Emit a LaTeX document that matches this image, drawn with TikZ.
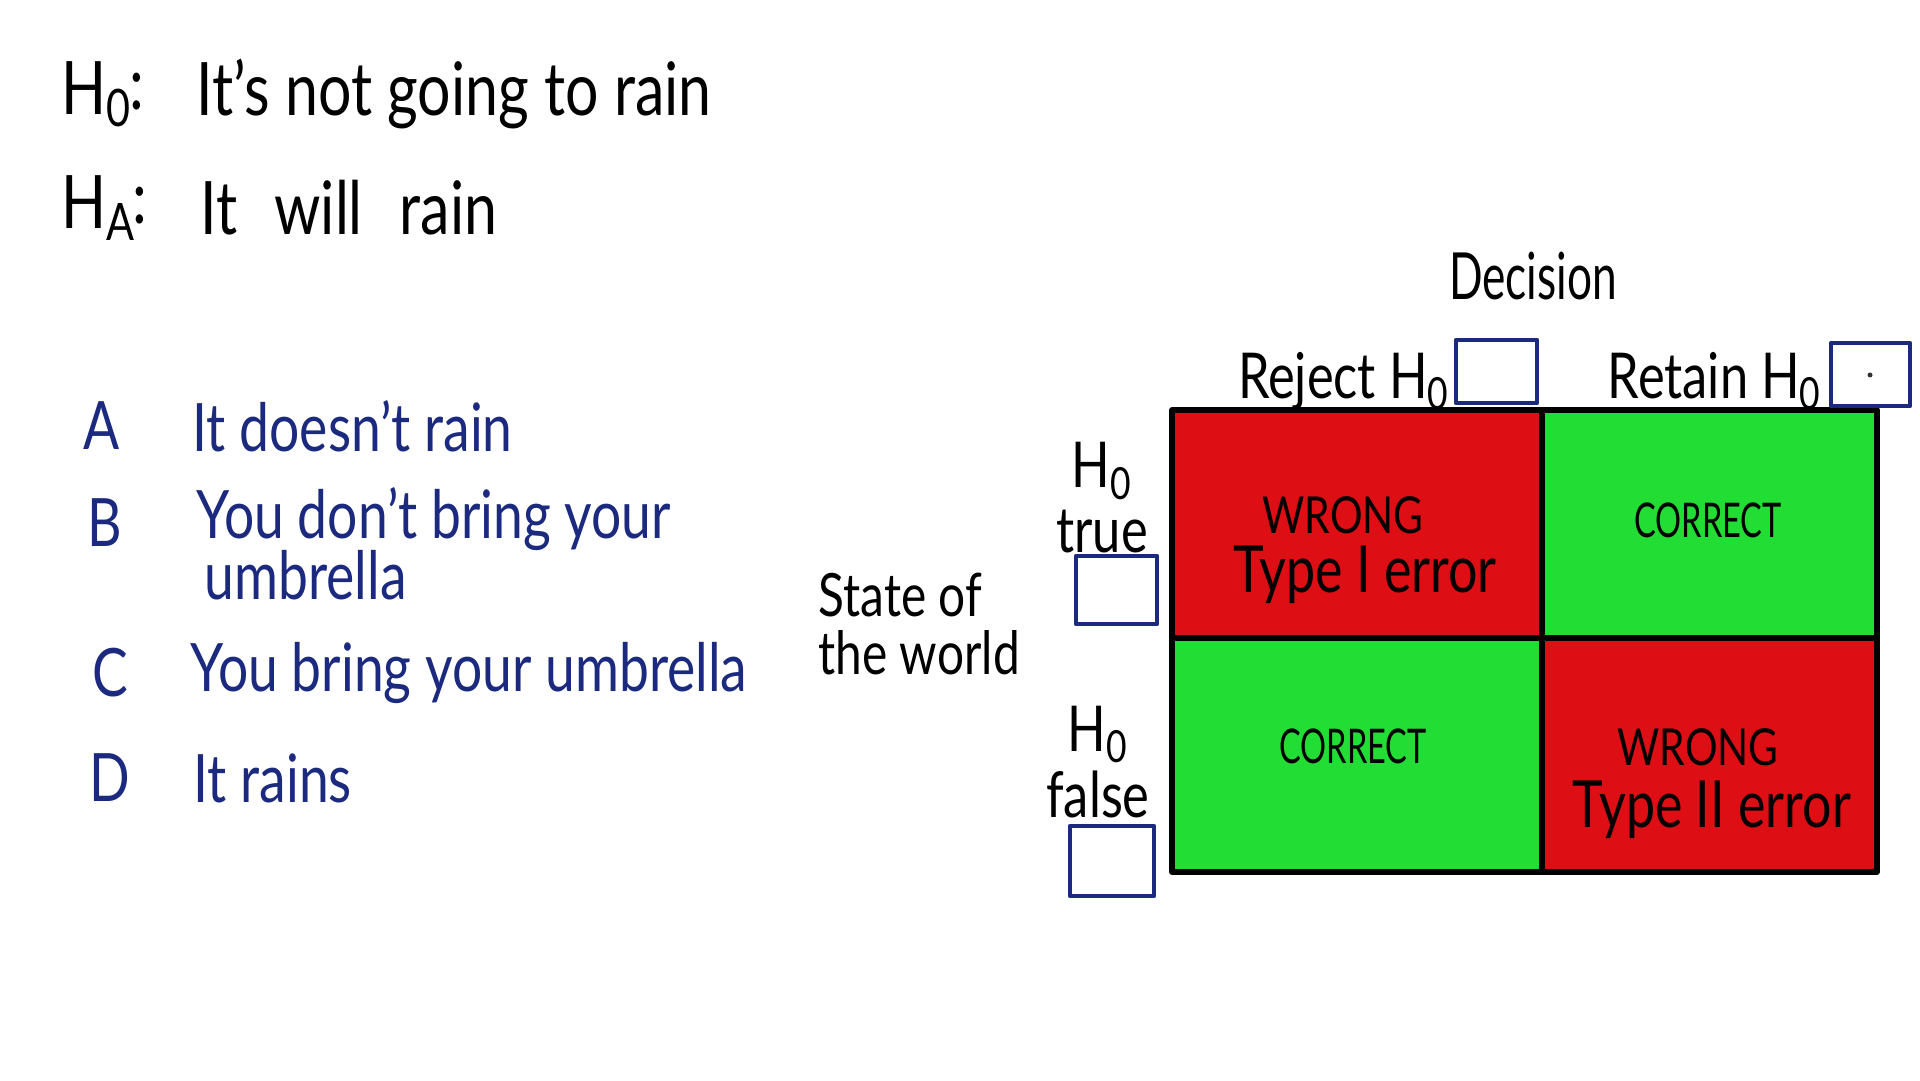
\documentclass[tikz,border=0pt]{standalone}
\usepackage{fontspec}
\setmainfont{Lato}[FakeStretch=0.8]
\newfontfamily\slimfont{Lato}[FakeStretch=0.68]
\usepackage{xcolor}
\usepackage{tikz}
\definecolor{inkblue}{HTML}{1B2A7E}
\definecolor{cellred}{HTML}{DD0F14}
\definecolor{cellgreen}{HTML}{22DD33}

\begin{document}
\begin{tikzpicture}[x=0.1cm, y=0.1cm, line cap=round, line join=round,
    hyp/.style={inner sep=0pt, font=\fontsize{21}{24}\selectfont},
    opt/.style={inner sep=0pt, text=inkblue, font=\fontsize{19}{22}\selectfont},
    head/.style={inner sep=0pt, font=\fontsize{18}{21}\selectfont},
    wrongtag/.style={inner sep=0pt, anchor=base, font=\fontsize{14.5}{17}\selectfont},
    righttag/.style={inner sep=0pt, anchor=base, font=\slimfont\fontsize{13.6}{16}\selectfont},
    kind/.style={inner sep=0pt, anchor=base, font=\fontsize{18.5}{21}\selectfont},
    tickbox/.style={draw=inkblue, line width=1.3pt}]

  \useasboundingbox (0,0) rectangle (192,108);

  % ---- the two hypotheses --------------------------------------------------
  \node[hyp, anchor=west] (hnull) at (6.1,98.6) {H\textsubscript{0}};
  \node[hyp] (cnull) at (13.7,98.8) {:};
  \node[hyp, anchor=west] (tnull) at (19.6,98.6) {It's not going to rain};
  \node[hyp, anchor=west] (halt) at (6.1,87.2) {H\textsubscript{A}};
  \node[hyp] (calt) at (14.0,87.4) {:};
  \node[hyp, anchor=west] (talt) at (20.0,87.2) {\spaceskip=0.5em It will rain};

  % ---- answer options in blue ----------------------------------------------
  \foreach \n/\y/\lx/\tx/\t in {A/65.4/10.2/19.2/It doesn't rain,
                                C/40.7/11.0/19.0/You bring your umbrella,
                                D/30.2/11.0/19.3/It rains}{
    \node[opt] (let\n) at (\lx,\y) {\n};
    \node[opt, anchor=west] (opt\n) at (\tx,\y) {\t};}
  \node[opt] (letB) at (10.5,55.7) {B};
  \node[opt, anchor=west] (optB) at (19.6,56.1) {You don't bring your};
  \node[opt, anchor=west] (optBb) at (20.4,50.5) {umbrella};

  % ---- decision table: four coloured cells ---------------------------------
  \fill[cellred]   (117.2,44.2) rectangle (154.2,67.0);
  \fill[cellgreen] (154.2,44.2) rectangle (187.7,67.0);
  \fill[cellgreen] (117.2,20.8) rectangle (154.2,44.2);
  \fill[cellred]   (154.2,20.8) rectangle (187.7,44.2);
  \draw[line width=1.5pt] (117.2,20.8) rectangle (187.7,67.0);
  \draw[line width=1.5pt] (154.2,20.8) -- (154.2,67.0);
  \draw[line width=1.5pt] (117.2,44.2) -- (187.7,44.2);

  \node[wrongtag] (wrongA) at (134.3,54.6) {WRONG};
  \node[kind] (typeA) at (136.5,48.7) {Type I error};
  \node[righttag] (rightA) at (170.8,54.2) {CORRECT};
  \node[righttag] (rightB) at (135.3,31.7) {CORRECT};
  \node[wrongtag] (wrongB) at (169.8,31.5) {WRONG};
  \node[kind] (typeB) at (171.2,25.3) {Type II error};

  % ---- headings round the table --------------------------------------------
  \node[head, font=\slimfont\fontsize{18.5}{21}\selectfont] (decision) at (153.3,80.4) {Decision};
  \node[head] (reject) at (134.4,69.9) {Reject H\textsubscript{0}};
  \node[head] (retain) at (171.5,69.9) {Retain H\textsubscript{0}};
  \node[head, align=center, font=\fontsize{18}{18.5}\selectfont] (nulltrue) at (110.2,58.2) {H\textsubscript{0}\\true};
  \node[head, align=center, font=\fontsize{18}{19}\selectfont] (nullfalse) at (109.8,31.8) {H\textsubscript{0}\\false};
  \node[head, anchor=west, align=left, font=\fontsize{17}{16.5}\selectfont] (world) at (81.8,45.6) {State of\\the world};

  % ---- empty answer boxes --------------------------------------------------
  \foreach \xa/\ya/\xb/\yb in {145.6/67.7/153.7/74.0, 183.1/67.4/191.0/73.7,
                               107.6/45.6/115.7/52.4, 107.0/18.4/115.4/25.4}{
    \draw[tickbox] (\xa,\ya) rectangle (\xb,\yb);}
  \fill[black!80] (187.0,70.5) circle (0.25);
\end{tikzpicture}
\end{document}
